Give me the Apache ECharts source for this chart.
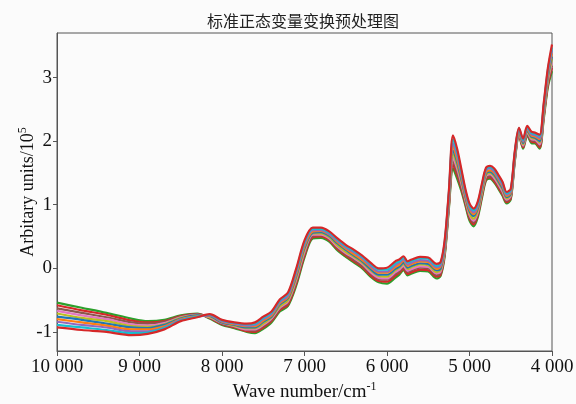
<!DOCTYPE html>
<html>
<head>
<meta charset="utf-8">
<script src="https://cdn.jsdelivr.net/npm/echarts@6/dist/echarts.min.js"></script>
<style>html,body{margin:0;padding:0;background:#fbfbfb;}#c{width:576px;height:404px;}</style>
</head>
<body>
<div id="c"></div>
<script>
const titleText = '标准正态变量变换预处理图';
const xTicks = [10000, 9000, 8000, 7000, 6000, 5000, 4000];
const yTicks = [-1, 0, 1, 2, 3];
const wavenumbers = [10000, 9700, 9400, 9100, 8900, 8700, 8500, 8300, 8150, 8000, 7850, 7700, 7600, 7500, 7400, 7300, 7200, 7100, 7000, 6900, 6800, 6700, 6600, 6500, 6400, 6300, 6200, 6100, 6000, 5900, 5850, 5800, 5750, 5700, 5600, 5500, 5400, 5350, 5300, 5250, 5200, 5150, 5100, 5050, 5000, 4950, 4900, 4850, 4800, 4750, 4700, 4650, 4600, 4550, 4500, 4450, 4400, 4350, 4300, 4250, 4200, 4150, 4100, 4050, 4000];

const spectrum1 = [-0.54,-0.62,-0.70,-0.79,-0.83,-0.81,-0.74,-0.71,-0.79,-0.89,-0.94,-1.00,-1.02,-0.95,-0.85,-0.68,-0.59,-0.27,0.17,0.47,0.48,0.42,0.28,0.18,0.09,0.00,-0.13,-0.22,-0.24,-0.15,-0.10,-0.03,-0.11,-0.08,-0.04,-0.05,-0.16,-0.12,0.20,0.94,1.57,1.41,1.22,0.99,0.75,0.66,0.80,1.10,1.38,1.41,1.35,1.25,1.14,1.02,1.08,1.69,2.09,1.88,2.09,1.97,1.96,1.88,2.35,2.85,3.10];
const spectrum2 = [-0.58,-0.66,-0.73,-0.82,-0.85,-0.83,-0.75,-0.72,-0.78,-0.88,-0.93,-0.99,-1.00,-0.93,-0.83,-0.66,-0.57,-0.24,0.20,0.49,0.50,0.44,0.30,0.20,0.11,0.02,-0.11,-0.20,-0.21,-0.12,-0.07,-0.01,-0.09,-0.06,-0.02,-0.03,-0.13,-0.10,0.23,0.97,1.63,1.46,1.26,1.02,0.78,0.69,0.83,1.13,1.40,1.43,1.37,1.27,1.16,1.04,1.10,1.71,2.10,1.90,2.11,1.99,1.98,1.90,2.38,2.88,3.15];
const spectrum3 = [-0.63,-0.70,-0.77,-0.85,-0.87,-0.84,-0.76,-0.72,-0.77,-0.87,-0.92,-0.97,-0.98,-0.91,-0.81,-0.64,-0.54,-0.21,0.23,0.51,0.52,0.46,0.32,0.22,0.13,0.04,-0.08,-0.17,-0.18,-0.09,-0.05,0.02,-0.06,-0.03,0.01,0.00,-0.11,-0.07,0.26,1.00,1.69,1.51,1.30,1.05,0.81,0.72,0.86,1.15,1.42,1.45,1.40,1.30,1.19,1.06,1.12,1.73,2.12,1.92,2.12,2.01,2.00,1.93,2.41,2.92,3.19];
const spectrum4 = [-0.67,-0.74,-0.80,-0.88,-0.90,-0.86,-0.77,-0.73,-0.77,-0.86,-0.91,-0.96,-0.96,-0.89,-0.79,-0.62,-0.52,-0.18,0.26,0.53,0.53,0.47,0.34,0.24,0.16,0.07,-0.06,-0.15,-0.16,-0.06,-0.02,0.04,-0.04,-0.01,0.03,0.02,-0.08,-0.05,0.28,1.03,1.74,1.57,1.34,1.08,0.84,0.75,0.88,1.18,1.45,1.48,1.42,1.32,1.21,1.08,1.14,1.74,2.13,1.93,2.14,2.03,2.02,1.95,2.43,2.95,3.24];
const spectrum5 = [-0.71,-0.78,-0.83,-0.91,-0.92,-0.88,-0.78,-0.74,-0.76,-0.85,-0.90,-0.94,-0.94,-0.87,-0.77,-0.60,-0.50,-0.15,0.29,0.55,0.55,0.49,0.36,0.26,0.18,0.09,-0.03,-0.12,-0.13,-0.03,0.01,0.07,-0.01,0.02,0.06,0.05,-0.06,-0.02,0.31,1.06,1.80,1.62,1.38,1.11,0.87,0.78,0.91,1.20,1.47,1.50,1.45,1.35,1.24,1.10,1.16,1.76,2.14,1.95,2.16,2.05,2.04,1.98,2.46,2.98,3.29];
const spectrum6 = [-0.76,-0.81,-0.87,-0.93,-0.94,-0.89,-0.79,-0.74,-0.75,-0.85,-0.89,-0.93,-0.93,-0.84,-0.76,-0.57,-0.47,-0.12,0.32,0.56,0.57,0.51,0.39,0.29,0.20,0.11,-0.01,-0.10,-0.10,-0.01,0.03,0.09,0.01,0.04,0.08,0.07,-0.03,0.00,0.34,1.10,1.86,1.67,1.41,1.13,0.90,0.82,0.94,1.23,1.49,1.52,1.47,1.37,1.26,1.12,1.17,1.78,2.16,1.97,2.17,2.07,2.05,2.00,2.49,3.02,3.33];
const spectrum7 = [-0.80,-0.85,-0.90,-0.96,-0.96,-0.91,-0.80,-0.75,-0.74,-0.84,-0.88,-0.91,-0.91,-0.82,-0.74,-0.55,-0.45,-0.09,0.35,0.58,0.59,0.53,0.41,0.31,0.22,0.13,0.02,-0.07,-0.07,0.02,0.06,0.12,0.04,0.07,0.11,0.10,-0.01,0.03,0.37,1.13,1.92,1.72,1.45,1.16,0.93,0.85,0.97,1.25,1.51,1.54,1.50,1.40,1.29,1.14,1.19,1.80,2.17,1.99,2.19,2.09,2.07,2.03,2.52,3.05,3.38];
const spectrum8 = [-0.84,-0.89,-0.93,-0.99,-0.99,-0.93,-0.81,-0.76,-0.74,-0.83,-0.87,-0.90,-0.89,-0.80,-0.72,-0.53,-0.43,-0.06,0.38,0.60,0.60,0.54,0.43,0.33,0.25,0.16,0.04,-0.05,-0.05,0.05,0.09,0.14,0.06,0.09,0.13,0.12,0.02,0.05,0.39,1.16,1.97,1.78,1.49,1.19,0.96,0.88,0.99,1.28,1.54,1.57,1.52,1.42,1.31,1.16,1.21,1.81,2.18,2.00,2.21,2.11,2.09,2.05,2.54,3.08,3.43];
const spectrum9 = [-0.89,-0.93,-0.97,-1.02,-1.01,-0.94,-0.82,-0.76,-0.73,-0.82,-0.86,-0.88,-0.87,-0.78,-0.70,-0.51,-0.40,-0.03,0.41,0.62,0.62,0.56,0.45,0.35,0.27,0.18,0.07,-0.02,-0.02,0.08,0.11,0.17,0.09,0.12,0.16,0.15,0.04,0.08,0.42,1.19,2.03,1.83,1.53,1.22,0.99,0.91,1.02,1.30,1.56,1.59,1.55,1.45,1.34,1.18,1.23,1.83,2.20,2.02,2.22,2.13,2.11,2.08,2.57,3.12,3.47];
const spectrum10 = [-0.93,-0.97,-1.00,-1.05,-1.03,-0.96,-0.83,-0.77,-0.72,-0.81,-0.85,-0.87,-0.85,-0.76,-0.68,-0.49,-0.38,0.00,0.44,0.64,0.64,0.58,0.47,0.37,0.29,0.20,0.09,0.00,0.01,0.11,0.14,0.19,0.11,0.14,0.18,0.17,0.07,0.10,0.45,1.22,2.09,1.88,1.57,1.25,1.02,0.94,1.05,1.33,1.58,1.61,1.57,1.47,1.36,1.20,1.25,1.85,2.21,2.04,2.24,2.15,2.13,2.10,2.60,3.15,3.52];

const spectra = [spectrum1, spectrum2, spectrum3, spectrum4, spectrum5, spectrum6, spectrum7, spectrum8, spectrum9, spectrum10];
const colors = ['#2ca02c', '#d62728', '#8c564b', '#e377c2', '#bcbd22', '#1f77b4', '#ff7f0e', '#9467bd', '#17becf', '#d62728'];

const serif = '"Liberation Serif", "Times New Roman", serif';
const chart = echarts.init(document.getElementById('c'), null, {renderer: 'canvas'});

const series = spectra.map((arr, i) => ({
  type: 'line',
  name: 'S' + (i + 1),
  data: wavenumbers.map((w, j) => [w, arr[j]]),
  showSymbol: false,
  smooth: 0.3,
  lineStyle: {width: 2.2, color: colors[i]},
  itemStyle: {color: colors[i]},
  z: 2 + i,
  emphasis: {disabled: true}
}));

chart.setOption({
  animation: false,
  backgroundColor: '#fbfbfb',
  title: {
    text: titleText,
    left: 298, top: 8, textAlign: 'center',
    textStyle: {fontFamily: '"Noto Sans CJK SC"', fontSize: 16, fontWeight: 'normal', color: '#222'}
  },
  grid: {left: 57, right: 24, top: 33, bottom: 53, show: true, borderColor: '#555', borderWidth: 1, backgroundColor: 'transparent', outerBoundsMode: 'none', containLabel: false},
  xAxis: {
    type: 'value', inverse: true, min: 4000, max: 10000, interval: 1000,
    name: '{n|Wave number/cm}{s|-1}',
    nameLocation: 'middle', nameGap: 30, nameMoveOverlap: false,
    nameTextStyle: {
      rich: {
        n: {fontFamily: serif, fontSize: 19, color: '#111', lineHeight: 22},
        s: {fontFamily: serif, fontSize: 12, color: '#111', verticalAlign: 'top', lineHeight: 22}
      }
    },
    axisLine: {onZero: false, lineStyle: {color: '#555', width: 1}},
    axisTick: {show: true, length: 5, inside: false, lineStyle: {color: '#555'}},
    splitLine: {show: false},
    axisLabel: {
      margin: 7, color: '#111', fontFamily: serif, fontSize: 19,
      formatter: v => { const s = String(v); return s.length > 3 ? s.slice(0, s.length - 3) + ' ' + s.slice(-3) : s; }
    }
  },
  yAxis: {
    type: 'value', min: -1.3, max: 3.7,
    name: '{n|Arbitary units/10}{s|5}',
    nameLocation: 'middle', nameGap: 18, nameRotate: 90, nameMoveOverlap: false,
    nameTextStyle: {
      rich: {
        n: {fontFamily: serif, fontSize: 18, color: '#111', lineHeight: 22},
        s: {fontFamily: serif, fontSize: 12, color: '#111', verticalAlign: 'top', lineHeight: 22}
      }
    },
    axisLine: {show: true, onZero: false, lineStyle: {color: '#555', width: 1}},
    axisTick: {show: true, length: 4, inside: false, customValues: yTicks, lineStyle: {color: '#555'}},
    splitLine: {show: false},
    axisLabel: {margin: 5, color: '#111', fontFamily: serif, fontSize: 19, customValues: yTicks}
  },
  series: series
});
</script>
</body>
</html>
